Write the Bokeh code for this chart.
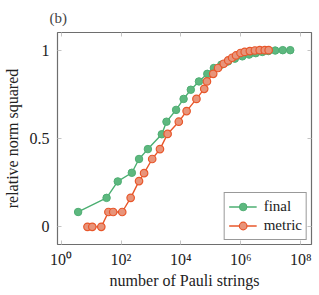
from bokeh.plotting import figure
from bokeh.models import LogAxis, LinearAxis, FixedTicker, Range1d, Legend, LegendItem
from bokeh.embed import file_html
from bokeh.resources import INLINE

# ---- data ----
final_x = [3.7, 33, 78, 230, 400, 790, 2300, 3300, 6900, 12300, 21400, 40000, 76000,
           126000, 224000, 372000, 631000, 1.12e6, 1.9e6, 3.16e6, 5.25e6, 8.3e6,
           1.41e7, 2.51e7, 4.47e7]
final_y = [0.084, 0.164, 0.257, 0.306, 0.384, 0.44, 0.524, 0.595, 0.662, 0.724, 0.776,
           0.823, 0.866, 0.899, 0.918, 0.936, 0.952, 0.965, 0.975, 0.983, 0.99, 0.995,
           0.998, 1.0, 1.0]
metric_x = [7.6, 11, 22, 38, 55, 110, 210, 400, 590, 1100, 2000, 3600, 8500, 15500,
            33000, 60000, 74000, 120000, 174000, 269000, 380000, 513000, 692000,
            977000, 1.35e6, 2.0e6, 2.95e6, 4.27e6, 6.3e6, 8.5e6]
metric_y = [0.0, 0.0, 0.0, 0.084, 0.084, 0.084, 0.164, 0.259, 0.304, 0.384, 0.44, 0.526,
            0.595, 0.655, 0.724, 0.781, 0.823, 0.866, 0.899, 0.923, 0.942, 0.957, 0.97,
            0.984, 0.99, 0.995, 0.998, 1.0, 1.0, 1.0]
x_ticks = [1, 1e2, 1e4, 1e6, 1e8]
x_tick_labels = ["10⁰", "10²", "10⁴", "10⁶", "10⁸"]
y_ticks = [0, 0.5, 1]
y_tick_labels = ["0", "0.5", "1"]

FONT = "Liberation Serif"
FRAME = "#6e6e6e"
TICK = "#c4c4c4"
G_LINE, G_FILL, G_EDGE = "#4caf72", "#5db87f", "#4fae73"
O_LINE, O_FILL, O_EDGE = "#e8572b", "#e8947a", "#e8572b"

p = figure(frame_width=254, frame_height=212, x_axis_type="log",
           x_range=Range1d(10 ** -0.12, 10 ** 8.36), y_range=Range1d(-0.1, 1.1),
           output_backend="svg", toolbar_location=None,
           min_border_left=50, min_border_right=6, min_border_top=30, min_border_bottom=40)

p.title.text = "(b)"
p.title.text_font = FONT
p.title.text_font_size = "15px"
p.title.text_font_style = "normal"
p.title.align = "left"
p.title.offset = -8
p.title.standoff = 14

p.xgrid.visible = False
p.ygrid.visible = False
p.outline_line_color = FRAME
p.outline_line_width = 1.2
p.outline_line_alpha = 1.0

def style(ax):
    ax.axis_line_color = None
    ax.major_tick_in = 4
    ax.major_tick_out = 0
    ax.minor_tick_in = 0
    ax.minor_tick_out = 0
    ax.major_tick_line_color = TICK
    ax.major_tick_line_width = 1
    ax.major_label_text_font = FONT
    ax.major_label_text_font_size = "16px"
    ax.major_label_text_color = "#222222"
    ax.axis_label_text_font = FONT
    ax.axis_label_text_font_size = "16px"
    ax.axis_label_text_font_style = "normal"
    ax.axis_label_text_color = "#222222"

xa = p.xaxis[0]
xa.ticker = FixedTicker(ticks=x_ticks)
xa.major_label_overrides = {t: l for t, l in zip(x_ticks, x_tick_labels)}
style(xa)
xa.major_label_standoff = 6
xa.axis_label = "number of Pauli strings"
xa.axis_label_standoff = 1

ya = p.yaxis[0]
ya.ticker = FixedTicker(ticks=y_ticks)
ya.major_label_overrides = {t: l for t, l in zip(y_ticks, y_tick_labels)}
style(ya)
ya.major_label_standoff = 8
ya.axis_label = "relative norm squared"
ya.axis_label_standoff = 6

top = LogAxis(ticker=FixedTicker(ticks=x_ticks))
style(top)
top.major_label_text_alpha = 0
top.major_label_text_font_size = "2px"
top.major_label_standoff = 0
p.add_layout(top, "above")
right = LinearAxis(ticker=FixedTicker(ticks=y_ticks))
style(right)
right.major_label_text_alpha = 0
right.major_label_text_font_size = "2px"
right.major_label_standoff = 0
p.add_layout(right, "right")

gl = p.line(final_x, final_y, line_color=G_LINE, line_width=1.4)
gs = p.scatter(final_x, final_y, marker="circle", size=7.5, fill_color=G_FILL,
               line_color=G_EDGE, line_width=1)
ol = p.line(metric_x, metric_y, line_color=O_LINE, line_width=1.4)
os_ = p.scatter(metric_x, metric_y, marker="circle", size=7.5, fill_color=O_FILL,
                line_color=O_EDGE, line_width=1.2)

legend = Legend(items=[LegendItem(label="final", renderers=[gl, gs]),
                       LegendItem(label="metric", renderers=[ol, os_])],
                location="bottom_right")
legend.margin = 4
legend.padding = 4
legend.spacing = 0
legend.glyph_width = 28
legend.glyph_height = 19
legend.label_height = 19
legend.label_standoff = 7
legend.label_text_font = FONT
legend.label_text_font_size = "15px"
legend.label_text_color = "#222222"
legend.border_line_color = "#333333"
legend.border_line_width = 1
legend.background_fill_alpha = 1.0
p.add_layout(legend, "center")

open("out.html", "w").write(file_html(p, INLINE))
